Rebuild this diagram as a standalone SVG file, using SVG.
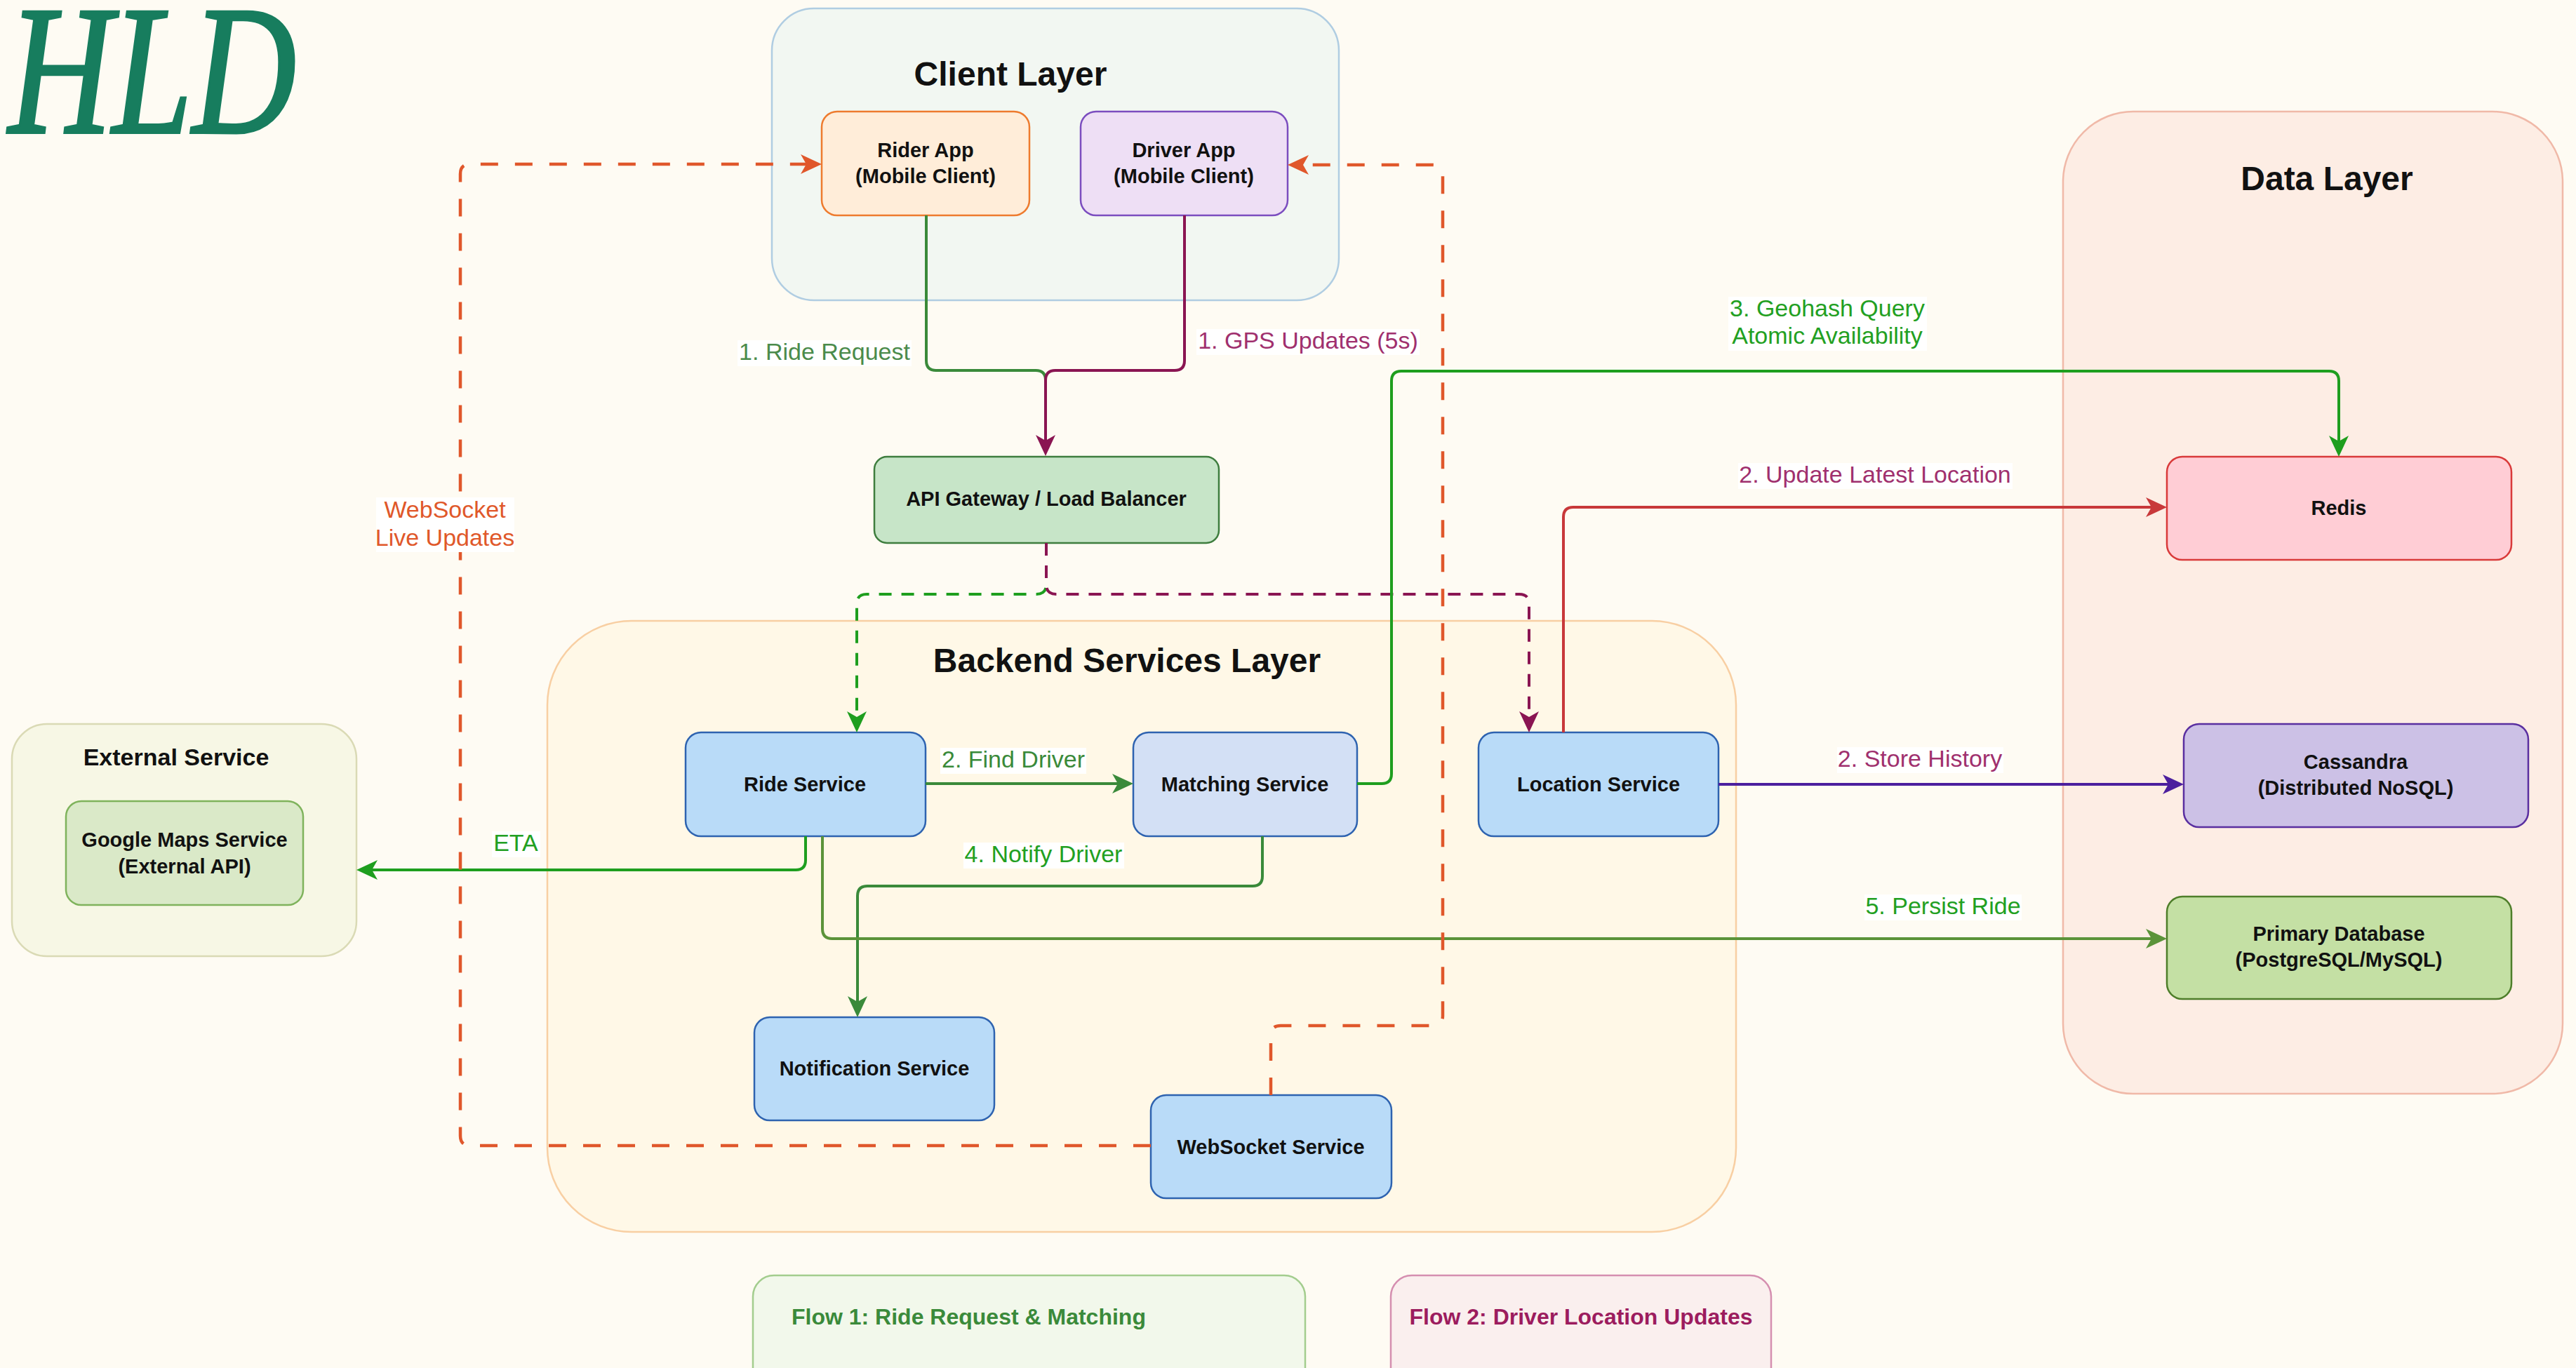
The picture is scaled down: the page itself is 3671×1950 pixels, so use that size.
<svg xmlns="http://www.w3.org/2000/svg" width="3671" height="1950" viewBox="0 0 3671 1950">
<defs>
<style>
.node text{font-family:"Liberation Sans",Arial,sans-serif;font-weight:bold;font-size:29px;fill:#111;text-anchor:middle}
.title{font-family:"Liberation Sans",Arial,sans-serif;font-weight:bold;font-size:48px;fill:#111;text-anchor:middle}
.lbl{font-family:"Liberation Sans",Arial,sans-serif;font-size:34px;text-anchor:middle}
.lblbg{fill:#ffffff}
.edge{fill:none;stroke-width:4}
.dash-o{stroke:#E0572B;stroke-width:4.5;stroke-dasharray:25 24;fill:none}
.dash-g{stroke:#1E9E1E;stroke-width:4;stroke-dasharray:18 14;fill:none}
.dash-p{stroke:#8A1552;stroke-width:4;stroke-dasharray:18 14;fill:none}
.svc rect{fill:#B9DBF8;stroke:#2E63B0;stroke-width:2.5}
.legend text{font-family:"Liberation Sans",Arial,sans-serif;font-weight:bold;font-size:32px}
</style>
<marker id="a-dg" viewBox="0 0 30 28" markerWidth="30" markerHeight="28" refX="20" refY="14" orient="auto" markerUnits="userSpaceOnUse"><path d="M0,0 L30,14 L0,28 L8,14 Z" fill="#3A8A3A"/></marker>
<marker id="a-pu" viewBox="0 0 30 28" markerWidth="30" markerHeight="28" refX="20" refY="14" orient="auto" markerUnits="userSpaceOnUse"><path d="M0,0 L30,14 L0,28 L8,14 Z" fill="#8A1552"/></marker>
<marker id="a-bg" viewBox="0 0 30 28" markerWidth="30" markerHeight="28" refX="20" refY="14" orient="auto" markerUnits="userSpaceOnUse"><path d="M0,0 L30,14 L0,28 L8,14 Z" fill="#1E9E1E"/></marker>
<marker id="a-rd" viewBox="0 0 30 28" markerWidth="30" markerHeight="28" refX="20" refY="14" orient="auto" markerUnits="userSpaceOnUse"><path d="M0,0 L30,14 L0,28 L8,14 Z" fill="#C8383A"/></marker>
<marker id="a-in" viewBox="0 0 30 28" markerWidth="30" markerHeight="28" refX="20" refY="14" orient="auto" markerUnits="userSpaceOnUse"><path d="M0,0 L30,14 L0,28 L8,14 Z" fill="#4C1F9E"/></marker>
<marker id="a-ol" viewBox="0 0 30 28" markerWidth="30" markerHeight="28" refX="20" refY="14" orient="auto" markerUnits="userSpaceOnUse"><path d="M0,0 L30,14 L0,28 L8,14 Z" fill="#5B9339"/></marker>
<marker id="a-or" viewBox="0 0 30 28" markerWidth="30" markerHeight="28" refX="20" refY="14" orient="auto" markerUnits="userSpaceOnUse"><path d="M0,0 L30,14 L0,28 L8,14 Z" fill="#E0572B"/></marker>
</defs>

<rect x="0" y="0" width="3671" height="1950" fill="#FEFBF3"/>

<text x="12" y="189" font-family="Liberation Serif, 'Times New Roman', serif" font-style="italic" font-size="263" fill="#177D5E" stroke="#177D5E" stroke-width="4" textLength="410" lengthAdjust="spacingAndGlyphs">HLD</text>

<!-- containers -->
<g id="client-layer">
<rect x="1100" y="12" width="808" height="416" rx="60" fill="#F2F7F2" stroke="#B0CDE2" stroke-width="2.5"/>
<text class="title" x="1440" y="122">Client Layer</text>
</g>
<g id="backend-layer">
<rect x="780" y="885" width="1694" height="871" rx="120" fill="#FFF8E7" stroke="#F8CFA3" stroke-width="2.5"/>
<text class="title" x="1606" y="958">Backend Services Layer</text>
</g>
<g id="data-layer">
<rect x="2940" y="159" width="712" height="1400" rx="100" fill="#FDEDE4" stroke="#F0B9A8" stroke-width="2.5"/>
<text class="title" x="3316" y="271">Data Layer</text>
</g>
<g id="external-service">
<rect x="17" y="1032" width="491" height="331" rx="50" fill="#F7F7E5" stroke="#DADAB5" stroke-width="2.5"/>
<text x="251" y="1091" font-family="Liberation Sans, Arial, sans-serif" font-weight="bold" font-size="34" fill="#111" text-anchor="middle">External Service</text>
</g>

<!-- nodes -->
<g id="rider-app" class="node">
<rect x="1171" y="159" width="296" height="148" rx="22" fill="#FFEDD9" stroke="#EE7B2E" stroke-width="2.5"/>
<text x="1319" y="224">Rider App</text>
<text x="1319" y="261">(Mobile Client)</text>
</g>
<g id="driver-app" class="node">
<rect x="1540" y="159" width="295" height="148" rx="22" fill="#EEDFF5" stroke="#7B4DBF" stroke-width="2.5"/>
<text x="1687" y="224">Driver App</text>
<text x="1687" y="261">(Mobile Client)</text>
</g>
<g id="api-gateway" class="node">
<rect x="1246" y="651" width="491" height="123" rx="18" fill="#C7E5C8" stroke="#3E7D3E" stroke-width="2.5"/>
<text x="1491" y="721">API Gateway / Load Balancer</text>
</g>
<g id="ride-service" class="node svc">
<rect x="977" y="1044" width="342" height="148" rx="22"/>
<text x="1147" y="1128">Ride Service</text>
</g>
<g id="matching-service" class="node">
<rect x="1615" y="1044" width="319" height="148" rx="22" fill="#D3E0F5" stroke="#2E63B0" stroke-width="2.5"/>
<text x="1774" y="1128">Matching Service</text>
</g>
<g id="location-service" class="node svc">
<rect x="2107" y="1044" width="342" height="148" rx="22"/>
<text x="2278" y="1128">Location Service</text>
</g>
<g id="notification-service" class="node svc">
<rect x="1075" y="1450" width="342" height="147" rx="22"/>
<text x="1246" y="1533">Notification Service</text>
</g>
<g id="websocket-service" class="node svc">
<rect x="1640" y="1561" width="343" height="147" rx="22"/>
<text x="1811" y="1645">WebSocket Service</text>
</g>
<g id="google-maps" class="node">
<rect x="94" y="1142" width="338" height="148" rx="22" fill="#DAE9C8" stroke="#7FB35C" stroke-width="2.5"/>
<text x="263" y="1207">Google Maps Service</text>
<text x="263" y="1245">(External API)</text>
</g>
<g id="redis" class="node">
<rect x="3088" y="651" width="491" height="147" rx="22" fill="#FFCDD5" stroke="#D93A3A" stroke-width="2.5"/>
<text x="3333" y="734">Redis</text>
</g>
<g id="cassandra" class="node">
<rect x="3112" y="1032" width="491" height="147" rx="22" fill="#CCC1E6" stroke="#5A2FA0" stroke-width="2.5"/>
<text x="3357" y="1096">Cassandra</text>
<text x="3357" y="1133">(Distributed NoSQL)</text>
</g>
<g id="primary-db" class="node">
<rect x="3088" y="1278" width="491" height="146" rx="22" fill="#C4E0A4" stroke="#4E7E2A" stroke-width="2.5"/>
<text x="3333" y="1341">Primary Database</text>
<text x="3333" y="1378">(PostgreSQL/MySQL)</text>
</g>

<!-- legend -->
<g id="legend-flow1" class="legend">
<rect x="1073" y="1818" width="787" height="180" rx="30" fill="#F2F8EB" stroke="#A3CD8E" stroke-width="2.5"/>
<text x="1128" y="1888" fill="#3A8A3A">Flow 1: Ride Request &amp; Matching</text>
</g>
<g id="legend-flow2" class="legend">
<rect x="1982" y="1818" width="542" height="180" rx="30" fill="#FAEFEE" stroke="#D58FB0" stroke-width="2.5"/>
<text x="2253" y="1888" fill="#9C1C5E" text-anchor="middle">Flow 2: Driver Location Updates</text>
</g>

<!-- connectors -->
<g id="connectors">
<g id="e-rider-api">
<path class="edge" stroke="#3A8A3A" stroke-width="3.5" d="M1320,307 V514 Q1320,528 1334,528 H1476 Q1490,528 1490,542 V640"/>
<rect class="lblbg" x="1051" y="485" width="248" height="37"/>
<text class="lbl" x="1175" y="513" fill="#4B8B4B">1. Ride Request</text>
</g>
<g id="e-driver-api">
<path class="edge" stroke="#8A1552" stroke-width="3.5" d="M1688,307 V514 Q1688,528 1674,528 H1504 Q1490,528 1490,542 V640" marker-end="url(#a-pu)"/>
<rect class="lblbg" x="1705" y="469" width="318" height="37"/>
<text class="lbl" x="1864" y="497" fill="#A0306E">1. GPS Updates (5s)</text>
</g>
<g id="e-api-ride">
<path class="dash-g" d="M1491,774 V833 Q1491,847 1477,847 H1235 Q1221,847 1221,861 V1034" marker-end="url(#a-bg)"/>
</g>
<g id="e-api-location">
<path class="dash-p" d="M1491,774 V833 Q1491,847 1505,847 H2165 Q2179,847 2179,861 V1034" marker-end="url(#a-pu)"/>
</g>
<g id="e-ride-matching">
<path class="edge" stroke="#3A8A3A" stroke-width="4.5" d="M1319,1117 H1605" marker-end="url(#a-dg)"/>
<rect class="lblbg" x="1340" y="1066" width="208" height="37"/>
<text class="lbl" x="1444" y="1094" fill="#3A8A3A">2. Find Driver</text>
</g>
<g id="e-matching-redis">
<path class="edge" stroke="#1E9E1E" d="M1934,1117 H1969 Q1983,1117 1983,1103 V543 Q1983,529 1997,529 H3319 Q3333,529 3333,543 V641" marker-end="url(#a-bg)"/>
<rect class="lblbg" x="2463" y="423" width="283" height="77"/>
<text class="lbl" x="2604" y="451" fill="#22A022">3. Geohash Query</text>
<text class="lbl" x="2604" y="490" fill="#22A022">Atomic Availability</text>
</g>
<g id="e-location-redis">
<path class="edge" stroke="#C8383A" stroke-width="3.5" d="M2228,1044 V737 Q2228,723 2242,723 H3078" marker-end="url(#a-rd)"/>
<rect class="lblbg" x="2477" y="660" width="391" height="37"/>
<text class="lbl" x="2672" y="688" fill="#A0306E">2. Update Latest Location</text>
</g>
<g id="e-location-cassandra">
<path class="edge" stroke="#4C1F9E" stroke-width="4.5" d="M2449,1118 H3102" marker-end="url(#a-in)"/>
<rect class="lblbg" x="2618" y="1065" width="237" height="37"/>
<text class="lbl" x="2736" y="1093" fill="#A0306E">2. Store History</text>
</g>
<g id="e-ride-google">
<path class="edge" stroke="#1E9E1E" stroke-width="4.5" d="M1148,1192 V1226 Q1148,1240 1134,1240 H518" marker-end="url(#a-bg)"/>
<rect class="lblbg" x="701" y="1185" width="69" height="37"/>
<text class="lbl" x="735" y="1213" fill="#22A022">ETA</text>
</g>
<g id="e-matching-notification">
<path class="edge" stroke="#3A8A3A" stroke-width="3.5" d="M1799,1192 V1249 Q1799,1263 1785,1263 H1236 Q1222,1263 1222,1277 V1440" marker-end="url(#a-dg)"/>
<rect class="lblbg" x="1373" y="1201" width="229" height="37"/>
<text class="lbl" x="1487" y="1229" fill="#22A022">4. Notify Driver</text>
</g>
<g id="e-ride-primary">
<path class="edge" stroke="#5B9339" stroke-width="4" d="M1172,1192 V1324 Q1172,1338 1186,1338 H3078" marker-end="url(#a-ol)"/>
<rect class="lblbg" x="2657" y="1275" width="224" height="37"/>
<text class="lbl" x="2769" y="1303" fill="#22A022">5. Persist Ride</text>
</g>
<g id="e-ws-rider">
<path class="dash-o" d="M1640,1633 H670 Q656,1633 656,1619 V248 Q656,234 670,234 H1161" marker-end="url(#a-or)"/>
<rect class="lblbg" x="536" y="709" width="197" height="78"/>
<text class="lbl" x="634" y="738" fill="#E0582A">WebSocket</text>
<text class="lbl" x="634" y="778" fill="#E0582A">Live Updates</text>
</g>
<g id="e-ws-driver">
<path class="dash-o" d="M1811,1561 V1476 Q1811,1462 1825,1462 H2042 Q2056,1462 2056,1448 V249 Q2056,235 2042,235 H1845" marker-end="url(#a-or)"/>
</g>
</g>
</svg>
